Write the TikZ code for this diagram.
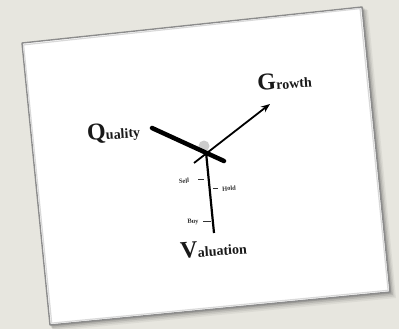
\documentclass[tikz,border=0pt]{standalone}
\usepackage{fontspec}
\setmainfont{Liberation Serif}
\usetikzlibrary{arrows.meta}
\definecolor{bgc}{HTML}{E7E6DF}
\definecolor{edgec}{HTML}{8C8C8C}
\tikzset{
  lbl/.style={inner sep=0pt, rotate=4, text=black!90, font=\bfseries},
  tiny/.style={font=\bfseries\fontsize{6.5}{7}\selectfont, inner sep=0pt, text=black!80},
  tick/.style={line width=0.6pt, black!80},
  hand/.style={line cap=round, black}
}
\newcommand{\bgl}[1]{{\fontsize{24}{24}\selectfont #1}}
\newcommand{\sml}[1]{{\fontsize{14}{14}\selectfont #1}}
\begin{document}
\begin{tikzpicture}[x=1pt,y=-1pt]
\useasboundingbox (0,0) rectangle (399,329);
\fill[bgc] (0,0) rectangle (399,329);
% board corners
\coordinate (tl) at (22,43);
\coordinate (tr) at (362,7);
\coordinate (br) at (390,292);
\coordinate (bl) at (50,325);
% soft shadow
\foreach \d/\o in {6/0.05,4.5/0.07,3/0.1,1.5/0.14}{
  \fill[black,opacity=\o] ([shift={(\d*0.6,\d)}]tl) -- ([shift={(\d,\d*0.5)}]tr) -- ([shift={(\d,\d)}]br) -- ([shift={(\d*0.5,\d)}]bl) -- cycle;
}
\fill[white] (tl) -- (tr) -- (br) -- (bl) -- cycle;
\draw[edgec, line width=1.4pt, line join=round] (tl) -- (tr) -- (br) -- (bl) -- cycle;
\draw[black!15, line width=1.2pt] ([shift={(1.6,1.9)}]tl) -- ([shift={(-1.9,1.6)}]tr) -- ([shift={(-1.9,-1.7)}]br) -- ([shift={(1.7,-1.9)}]bl) -- cycle;
% clock centre
\coordinate (c) at (206,152);
\fill[black!20] (204,146) circle (5.5);
% Quality hand
\coordinate (q1) at (152,128);
\coordinate (q2) at (224,161);
\draw[hand, line width=4.5pt] (q1) -- (q2);
% Growth arrow
\coordinate (g0) at (194,163);
\coordinate (g1) at (270,104);
\draw[black, line width=1.8pt, -{Stealth[length=9pt,width=7pt]}] (g0) -- (g1);
% Valuation hand
\coordinate (v1) at (214,233);
\draw[black, line width=2.2pt] (c) -- (v1);
% ticks
\coordinate (s1) at (198,179); \coordinate (s2) at (203.5,179);
\coordinate (h1) at (213,188); \coordinate (h2) at (218,188);
\coordinate (b1) at (203,221); \coordinate (b2) at (211,221);
\draw[tick] (s1) -- (s2);
\draw[tick] (h1) -- (h2);
\draw[tick] (b1) -- (b2);
\node[tiny, rotate=4] (sell) at (184,181) {Sell};
\node[tiny, rotate=4] (hold) at (229,188.5) {Hold};
\node[tiny, rotate=4] (buy) at (193,222) {Buy};
% labels
\node[lbl, anchor=base] (quality) at (114,139) {\bgl{Q}\sml{uality}};
\node[lbl, anchor=base] (growth) at (285,89) {\bgl{G}\sml{rowth}};
\node[lbl, anchor=base] (valuation) at (214,256) {\bgl{V}\sml{aluation}};
\end{tikzpicture}
\end{document}
